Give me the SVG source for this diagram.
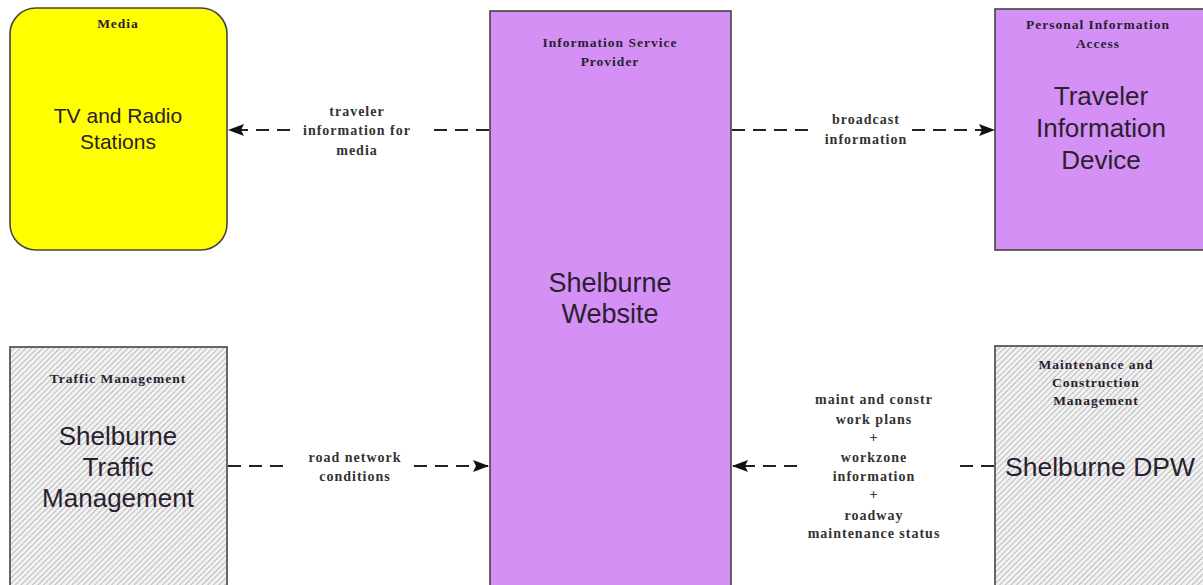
<svg xmlns="http://www.w3.org/2000/svg" width="1203" height="585" viewBox="0 0 1203 585">
<style>
.title{font-family:"Liberation Serif","Times New Roman",serif;font-weight:bold;font-size:13.5px;letter-spacing:1px;fill:#2a2030;text-anchor:middle}
.main{font-family:"Liberation Sans",Arial,sans-serif;fill:#2a2030;text-anchor:middle}
.flow{font-family:"Liberation Serif","Times New Roman",serif;font-weight:bold;font-size:14px;letter-spacing:1px;fill:#333;text-anchor:middle}
.conn{fill:none;stroke:#222;stroke-width:2;stroke-dasharray:13 8}
.box{stroke:#444;stroke-width:1.6}
</style>
<defs>
<pattern id="hatch" patternUnits="userSpaceOnUse" width="4" height="4" patternTransform="rotate(45)">
<rect width="4" height="4" fill="#f2f2f2"/>
<line x1="0" y1="0" x2="0" y2="4" stroke="#999" stroke-width="1.2"/>
</pattern>
<marker id="arr" markerUnits="userSpaceOnUse" markerWidth="16" markerHeight="12" refX="15" refY="6" orient="auto">
<path d="M0,0 L16,6 L0,12 L3,6 Z" fill="#111"/>
</marker>
</defs>
<rect width="1203" height="585" fill="#fff"/>
<g id="media">
<rect class="box" x="10" y="8" width="217" height="242" rx="26" fill="#ffff00" stroke="#555"/>
<text class="title" x="118" y="28">Media</text>
<text class="main" x="118" y="123" font-size="21">TV and Radio</text>
<text class="main" x="118" y="149" font-size="21">Stations</text>
</g>
<g id="isp">
<rect class="box" x="490" y="11" width="241" height="590" fill="#d490f5"/>
<text class="title" x="610" y="47">Information Service</text>
<text class="title" x="610" y="66">Provider</text>
<text class="main" x="610" y="292" font-size="27">Shelburne</text>
<text class="main" x="610" y="323" font-size="27">Website</text>
</g>
<g id="pia">
<rect class="box" x="995" y="9" width="220" height="241" fill="#d490f5"/>
<text class="title" x="1098" y="29">Personal Information</text>
<text class="title" x="1098" y="48">Access</text>
<text class="main" x="1101" y="105" font-size="26">Traveler</text>
<text class="main" x="1101" y="137" font-size="26">Information</text>
<text class="main" x="1101" y="169" font-size="26">Device</text>
</g>
<g id="traffic">
<rect class="box" x="10" y="347" width="217" height="250" fill="url(#hatch)"/>
<text class="title" x="118" y="383">Traffic  Management</text>
<text class="main" x="118" y="445" font-size="26">Shelburne</text>
<text class="main" x="118" y="476" font-size="26">Traffic</text>
<text class="main" x="118" y="507" font-size="26">Management</text>
</g>
<g id="dpw">
<rect class="box" x="995" y="346" width="220" height="250" fill="url(#hatch)"/>
<text class="title" x="1096" y="369">Maintenance and</text>
<text class="title" x="1096" y="387">Construction</text>
<text class="title" x="1096" y="405">Management</text>
<text class="main" x="1100" y="476" font-size="26.5">Shelburne DPW</text>
</g>
<g id="connectors">
<path class="conn" d="M489,130 H428 M290,130 H229" marker-end="url(#arr)"/>
<path class="conn" d="M732,130 H815 M912,130 H994" marker-end="url(#arr)"/>
<path class="conn" d="M228,466 H290 M414,466 H488" marker-end="url(#arr)"/>
<path class="conn" d="M994,466 H955 M797,466 H733" marker-end="url(#arr)"/>
</g>
<g id="labels">
<text class="flow" x="357" y="116">traveler</text>
<text class="flow" x="357" y="135">information for</text>
<text class="flow" x="357" y="155">media</text>
<text class="flow" x="866" y="124">broadcast</text>
<text class="flow" x="866" y="144">information</text>
<text class="flow" x="355" y="462">road network</text>
<text class="flow" x="355" y="481">conditions</text>
<text class="flow" x="874" y="404">maint and constr</text>
<text class="flow" x="874" y="424">work plans</text>
<text class="flow" x="874" y="442">+</text>
<text class="flow" x="874" y="462">workzone</text>
<text class="flow" x="874" y="481">information</text>
<text class="flow" x="874" y="499">+</text>
<text class="flow" x="874" y="520">roadway</text>
<text class="flow" x="874" y="538">maintenance status</text>
</g>
</svg>
